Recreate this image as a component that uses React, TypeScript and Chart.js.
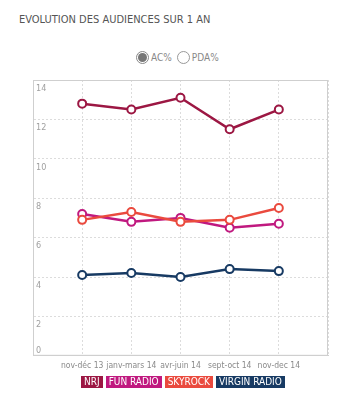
import React, { useEffect, useRef } from 'react';
import { Chart, registerables } from 'chart.js';

Chart.register(...registerables);

const CATEGORIES = ['nov-déc 13', 'janv-mars 14', 'avr-juin 14', 'sept-oct 14', 'nov-dec 14'];
const NRJ = [12.8, 12.5, 13.1, 11.5, 12.5];
const FUN_RADIO = [7.2, 6.8, 7.0, 6.5, 6.7];
const SKYROCK = [6.9, 7.3, 6.8, 6.9, 7.5];
const VIRGIN_RADIO = [4.1, 4.2, 4.0, 4.4, 4.3];
const SERIES_NAMES = ['NRJ', 'FUN RADIO', 'SKYROCK', 'VIRGIN RADIO'];
const SERIES_COLORS = ['#9c1743', '#c0197f', '#ea4a3e', '#173a63'];
const Y_MIN = 0;
const Y_MAX = 14;
const Y_STEP = 2;

const NARROW = '"Liberation Sans Narrow", "DejaVu Sans Condensed", "Open Sans", sans-serif';

const frameAndLabels = {
  id: 'frameAndLabels',
  afterDraw(chart: any) {
    const { ctx, chartArea } = chart;
    const y = chart.scales.y;
    ctx.save();
    ctx.strokeStyle = '#cfcfcf';
    ctx.lineWidth = 1;
    ctx.setLineDash([]);
    ctx.strokeRect(chartArea.left + 0.5, chartArea.top + 0.5, chartArea.right - chartArea.left - 1, chartArea.bottom - chartArea.top - 1);
    ctx.fillStyle = '#a0a0a0';
    ctx.font = '9px ' + NARROW;
    ctx.textAlign = 'left';
    y.ticks.forEach((t: any) => {
      const py = y.getPixelForValue(t.value);
      if (t.value === Y_MIN) {
        ctx.textBaseline = 'bottom';
        ctx.fillText(String(t.value), chartArea.left + 3, py - 1);
      } else {
        ctx.textBaseline = 'top';
        ctx.fillText(String(t.value), chartArea.left + 3, py + 4);
      }
    });
    ctx.restore();
  },
};

export default function App() {
  const ref = useRef<HTMLCanvasElement>(null);
  useEffect(() => {
    document.body.style.margin = '0';
    const seriesValues = [NRJ, FUN_RADIO, SKYROCK, VIRGIN_RADIO];
    const chart = new Chart(ref.current!, {
      type: 'line',
      data: {
        datasets: seriesValues.map((vals, si) => ({
          label: SERIES_NAMES[si],
          data: vals.map((v, i) => ({ x: i, y: v })),
          borderColor: SERIES_COLORS[si],
          backgroundColor: '#ffffff',
          pointBackgroundColor: '#ffffff',
          pointBorderColor: SERIES_COLORS[si],
          pointBorderWidth: 2,
          pointRadius: 4,
          borderWidth: 2.5,
          tension: 0,
          order: 3 - si,
        })),
      },
      options: {
        animation: false,
        responsive: false,
        maintainAspectRatio: false,
        layout: { padding: { left: 33, right: 24, top: 80, bottom: 2 } },
        plugins: { legend: { display: false }, tooltip: { enabled: false } },
        scales: {
          x: {
            type: 'linear',
            min: -1,
            max: CATEGORIES.length,
            ticks: {
              stepSize: 1,
              autoSkip: false,
              maxRotation: 0,
              padding: 5,
              color: '#8a8a8a',
              font: { size: 8.5, family: NARROW },
              callback: (v: any) => CATEGORIES[v as number] ?? '',
            },
            grid: { color: '#dcdcdc', drawTicks: false },
            border: { color: '#cfcfcf', dash: [2, 2] },
          },
          y: {
            min: Y_MIN,
            max: Y_MAX,
            ticks: { stepSize: Y_STEP, display: false },
            grid: { color: '#dcdcdc', drawTicks: false },
            border: { color: '#cfcfcf', dash: [2, 2] },
          },
        },
      },
      plugins: [frameAndLabels],
    });
    return () => chart.destroy();
  }, []);

  return (
    <div style={{ position: 'relative', width: 352, height: 410, background: '#fff', fontFamily: NARROW }}>
      <div style={{ position: 'absolute', left: 19, top: 13, fontSize: 11, color: '#555', letterSpacing: 0 }}>
        EVOLUTION DES AUDIENCES SUR 1 AN
      </div>
      <div style={{ position: 'absolute', left: 136, top: 51, display: 'flex', alignItems: 'center', fontSize: 10, color: '#888' }}>
        <span style={{ width: 11, height: 11, borderRadius: '50%', border: '1px solid #888', display: 'inline-flex', alignItems: 'center', justifyContent: 'center', marginRight: 2 }}>
          <span style={{ width: 9, height: 9, borderRadius: '50%', background: '#777' }} />
        </span>
        <span style={{ marginRight: 5 }}>AC%</span>
        <span style={{ width: 11, height: 11, borderRadius: '50%', border: '1px solid #999', display: 'inline-block', marginRight: 2 }} />
        <span>PDA%</span>
      </div>
      <canvas ref={ref} width={352} height={378} style={{ position: 'absolute', left: 0, top: 0, width: 352, height: 378 }} />
      <div style={{ position: 'absolute', left: 81, top: 376, display: 'flex', gap: 3 }}>
        {SERIES_NAMES.map((n, i) => (
          <span key={n} style={{ background: SERIES_COLORS[i], color: '#fff', fontSize: 10, lineHeight: '12px', height: 12, padding: '0 3px', display: 'inline-block' }}>
            {n}
          </span>
        ))}
      </div>
    </div>
  );
}
